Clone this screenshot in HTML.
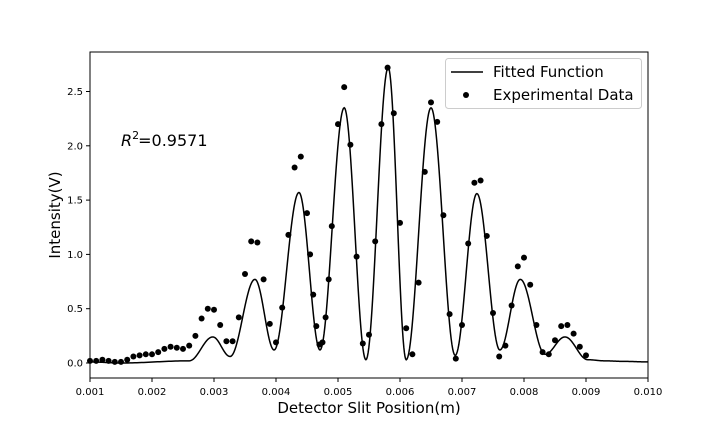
<!DOCTYPE html>
<html><head><meta charset="utf-8"><style>
body{margin:0;background:#fff}
svg text{font-family:"DejaVu Sans","Liberation Sans",sans-serif;fill:#000}
</style></head><body>
<svg id="chart" width="720" height="432" xmlns="http://www.w3.org/2000/svg">
<rect width="720" height="432" fill="#fff"/>
<g id="plot"></g>
<g id="axes"></g>
<text x="121" y="146" font-size="16"><tspan font-style="italic">R</tspan><tspan dy="-7" font-size="11">2</tspan><tspan dy="7" dx="-1">=0.9571</tspan></text>
<text x="369" y="413" font-size="15" text-anchor="middle">Detector Slit Position(m)</text>
<text x="60" y="215" font-size="15" text-anchor="middle" transform="rotate(-90 60 215)">Intensity(V)</text>
<g>
<rect x="445.5" y="58.5" width="196" height="50" rx="3" fill="#fff" stroke="#ccc"/>
<line x1="451" y1="72" x2="483" y2="72" stroke="#000" stroke-width="1.5"/>
<text x="493" y="77" font-size="15">Fitted Function</text>
<circle cx="466" cy="95" r="3" fill="#000"/>
<text x="493" y="100" font-size="15">Experimental Data</text>
</g>
</svg>
<script>
const dataX=[1.0,1.1,1.2,1.3,1.4,1.5,1.6,1.7,1.8,1.9,2.0,2.1,2.2,2.3,2.4,2.5,2.6,2.7,2.8,2.9,3.0,3.1,3.2,3.3,3.4,3.5,3.6,3.7,3.8,3.9,4.0,4.1,4.2,4.3,4.4,4.5,4.55,4.6,4.65,4.7,4.75,4.8,4.85,4.9,5.0,5.1,5.2,5.3,5.4,5.5,5.6,5.7,5.8,5.9,6.0,6.1,6.2,6.3,6.4,6.5,6.6,6.7,6.8,6.9,7.0,7.1,7.2,7.3,7.4,7.5,7.6,7.7,7.8,7.9,8.0,8.1,8.2,8.3,8.4,8.5,8.6,8.7,8.8,8.9,9.0];
const dataY=[0.02,0.02,0.03,0.02,0.01,0.01,0.03,0.06,0.07,0.08,0.08,0.10,0.13,0.15,0.14,0.13,0.16,0.25,0.41,0.50,0.49,0.35,0.20,0.20,0.42,0.82,1.12,1.11,0.77,0.36,0.19,0.51,1.18,1.80,1.90,1.38,1.00,0.63,0.34,0.17,0.19,0.42,0.77,1.26,2.20,2.54,2.01,0.98,0.18,0.26,1.12,2.20,2.72,2.30,1.29,0.32,0.08,0.74,1.76,2.40,2.22,1.36,0.45,0.04,0.35,1.10,1.66,1.68,1.17,0.46,0.06,0.16,0.53,0.89,0.97,0.72,0.35,0.10,0.08,0.21,0.34,0.35,0.27,0.15,0.07];
const fitX=[1.0,1.5,2.6,2.98,3.26,3.66,3.97,4.37,4.71,5.10,5.45,5.81,6.10,6.50,6.89,7.24,7.61,7.94,8.34,8.66,9.03,9.3,9.6,10.0];
const fitY=[0.01,0.0,0.02,0.24,0.06,0.77,0.12,1.57,0.12,2.35,0.03,2.72,0.03,2.35,0.07,1.56,0.12,0.77,0.08,0.24,0.03,0.02,0.015,0.01];
const xTicks=[1,2,3,4,5,6,7,8,9,10];
const xTickLabels=["0.001","0.002","0.003","0.004","0.005","0.006","0.007","0.008","0.009","0.010"];
const yTicks=[0,0.5,1.0,1.5,2.0,2.5];
const yTickLabels=["0.0","0.5","1.0","1.5","2.0","2.5"];

const NS="http://www.w3.org/2000/svg";
const L=90,R=648,T=52,B=378;
function sx(v){return L+(v-1)*(R-L)/9;}
function sy(v){return 363-v*108.6;}
function mk(tag,attrs,parent){const e=document.createElementNS(NS,tag);for(const k in attrs)e.setAttribute(k,attrs[k]);parent.appendChild(e);return e;}
const plot=document.getElementById('plot'),axes=document.getElementById('axes');
let d="";
for(let i=0;i<fitX.length-1;i++){
  const n=30;
  for(let j=(i==0?0:1);j<=n;j++){
    const t=j/n,x=fitX[i]+(fitX[i+1]-fitX[i])*t;
    const e=(1-Math.cos(Math.PI*t))/2,y=fitY[i]+(fitY[i+1]-fitY[i])*e;
    d+=(d?"L":"M")+sx(x).toFixed(2)+","+sy(y).toFixed(2);
  }
}
const curve=mk('path',{d:d,fill:'none',stroke:'#000','stroke-width':1.5},plot);


for(let i=0;i<dataX.length;i++){
  const c=mk('circle',{cx:sx(dataX[i]),cy:sy(dataY[i]),r:3,fill:'#000'},plot);
  
  
}
const frame=mk('rect',{x:L,y:T,width:R-L,height:B-T,fill:'none',stroke:'#000','stroke-width':1},axes);


for(let i=0;i<xTicks.length;i++){
  const x=sx(xTicks[i]);
  const tk=mk('line',{x1:x,y1:B,x2:x,y2:B+4,stroke:'#000'},axes);
  
  
  const tx=mk('text',{x:x,y:B+17,'font-size':10,'text-anchor':'middle'},axes);
  tx.textContent=xTickLabels[i];
  
  
}
for(let i=0;i<yTicks.length;i++){
  const y=sy(yTicks[i]);
  const tk=mk('line',{x1:L-4,y1:y,x2:L,y2:y,stroke:'#000'},axes);
  
  
  const tx=mk('text',{x:L-7,y:y+3.5,'font-size':10,'text-anchor':'end'},axes);
  tx.textContent=yTickLabels[i];
  
  
}
</script>
</body></html>
